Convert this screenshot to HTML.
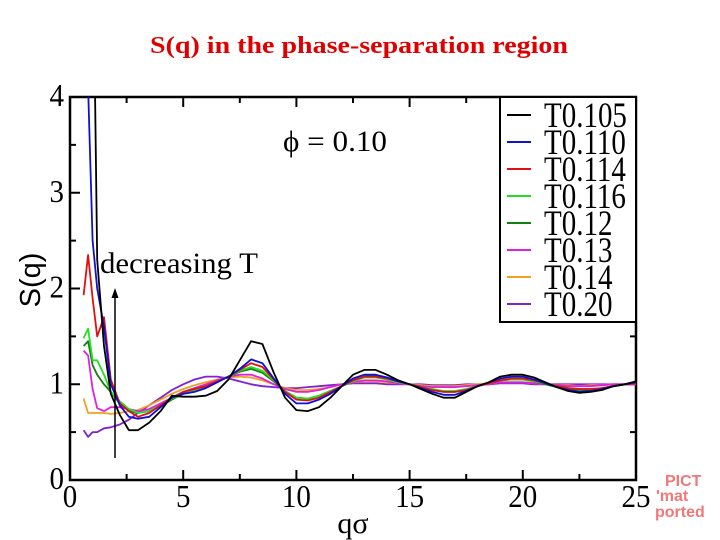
<!DOCTYPE html>
<html><head><meta charset="utf-8"><style>
html,body{margin:0;padding:0;background:#fff;}
body{width:720px;height:540px;overflow:hidden;position:relative;}
svg{position:absolute;left:0;top:0;}
</style></head><body>
<svg id="chart" width="720" height="540" viewBox="0 0 720 540">
<defs><clipPath id="plotclip"><rect x="70" y="97" width="566" height="383"/></clipPath></defs>
<text x="150" y="53" textLength="418" lengthAdjust="spacingAndGlyphs" fill="#e00000" font-family="Liberation Serif, serif" font-size="24" font-weight="bold">S(q) in the phase-separation region</text>
<g id="axes"></g>
<g id="series" clip-path="url(#plotclip)"></g>
<line x1="115" y1="458" x2="115" y2="292" stroke="#000" stroke-width="1.5"/>
<polygon points="115,288 111.5,298 118.5,298" fill="#000"/>
<text x="100" y="273" textLength="158" lengthAdjust="spacingAndGlyphs" font-family="Liberation Serif, serif" font-size="30">decreasing T</text>
<text x="283" y="151" textLength="104" lengthAdjust="spacingAndGlyphs" font-family="Liberation Serif, serif" font-size="30">ϕ = 0.10</text>
<text transform="translate(40,280) rotate(-90)" text-anchor="middle" font-family="Liberation Sans, sans-serif" font-size="29">S(q)</text>
<text x="353" y="533" text-anchor="middle" font-family="Liberation Serif, serif" font-size="30">qσ</text>
<g id="legend"></g>
<g font-family="Liberation Sans, sans-serif" font-size="16" font-weight="bold" fill="#f07878">
<text x="665" y="486">PICT</text><text x="656" y="501">'mat</text><text x="655" y="517">ported</text></g>
</svg>
<script>
const qs=[0.6,0.8,1.0,1.2,1.5,1.8,2.2,2.6,3,3.5,4,4.5,5,5.5,6,6.5,7,7.5,8,8.5,9,9.5,10,10.5,11,11.5,12,12.5,13,13.5,14,14.5,15,15.5,16,16.5,17,17.5,18,18.5,19,19.5,20,20.5,21,21.5,22,22.5,23,23.5,24,24.5,25];
const sT105=[null,null,6,2.3,1.4,0.9,0.68,0.52,0.52,0.6,0.72,0.88,0.87,0.87,0.88,0.93,1.05,1.25,1.45,1.42,1.12,0.86,0.73,0.72,0.76,0.86,0.98,1.1,1.15,1.15,1.1,1.04,1.0,0.95,0.9,0.86,0.86,0.92,0.98,1.02,1.08,1.1,1.1,1.07,1.02,0.97,0.93,0.91,0.92,0.94,0.98,1.0,1.03];
const sT110=[5,4.1,2.5,2.0,1.6,1.0,0.78,0.66,0.64,0.66,0.76,0.86,0.9,0.92,0.96,1.02,1.08,1.16,1.26,1.22,1.06,0.9,0.8,0.8,0.84,0.9,0.98,1.06,1.1,1.1,1.07,1.03,1.0,0.96,0.92,0.89,0.89,0.93,0.98,1.02,1.06,1.08,1.08,1.05,1.01,0.97,0.94,0.92,0.93,0.95,0.98,1.0,1.02];
const sT114=[1.93,2.35,1.9,1.5,1.7,1.05,0.8,0.72,0.66,0.7,0.78,0.86,0.92,0.95,0.98,1.03,1.08,1.15,1.22,1.18,1.05,0.92,0.84,0.83,0.86,0.92,0.98,1.04,1.08,1.08,1.06,1.03,1.0,0.97,0.94,0.92,0.92,0.94,0.98,1.01,1.04,1.06,1.06,1.04,1.01,0.98,0.96,0.95,0.95,0.96,0.98,1.0,1.01];
const sT116=[1.48,1.58,1.25,1.25,1.1,0.92,0.82,0.74,0.7,0.72,0.78,0.85,0.9,0.94,0.98,1.03,1.08,1.14,1.18,1.14,1.04,0.93,0.86,0.85,0.88,0.93,0.98,1.03,1.07,1.07,1.05,1.02,1.0,0.97,0.95,0.93,0.93,0.95,0.98,1.01,1.04,1.05,1.05,1.03,1.01,0.98,0.96,0.95,0.95,0.96,0.98,1.0,1.01];
const sT12=[1.4,1.45,1.2,1.1,1.0,0.92,0.8,0.72,0.7,0.72,0.77,0.84,0.9,0.94,0.98,1.03,1.08,1.13,1.16,1.12,1.03,0.93,0.86,0.85,0.88,0.93,0.98,1.03,1.08,1.09,1.07,1.03,1.0,0.97,0.94,0.92,0.92,0.94,0.98,1.01,1.04,1.05,1.05,1.03,1.0,0.97,0.95,0.94,0.94,0.96,0.98,1.0,1.01];
const sT13=[1.35,1.3,0.95,0.75,0.72,0.76,0.76,0.74,0.72,0.74,0.8,0.86,0.92,0.96,1.0,1.04,1.08,1.1,1.1,1.06,1.0,0.95,0.92,0.92,0.94,0.97,1.0,1.02,1.04,1.04,1.03,1.01,1.0,0.98,0.97,0.97,0.97,0.98,0.99,1.0,1.02,1.02,1.02,1.01,1.0,0.99,0.98,0.98,0.98,0.99,1.0,1.0,1.0];
const sT14=[0.85,0.7,0.7,0.7,0.7,0.69,0.7,0.72,0.73,0.78,0.84,0.9,0.95,0.99,1.02,1.05,1.07,1.08,1.07,1.04,1.0,0.96,0.94,0.94,0.95,0.97,1.0,1.02,1.03,1.03,1.02,1.01,1.0,0.99,0.98,0.98,0.98,0.99,1.0,1.01,1.02,1.02,1.02,1.01,1.0,0.99,0.99,0.98,0.99,0.99,1.0,1.0,1.01];
const sT20=[0.52,0.45,0.5,0.5,0.54,0.55,0.58,0.63,0.7,0.78,0.86,0.94,1.0,1.05,1.08,1.08,1.06,1.03,1.0,0.98,0.97,0.96,0.96,0.97,0.98,0.99,1.0,1.01,1.01,1.01,1.0,1.0,1.0,1.0,0.99,0.99,0.99,1.0,1.0,1.0,1.01,1.01,1.01,1.0,1.0,1.0,1.0,1.0,1.0,1.0,1.0,1.0,1.0];
const seriesNames=["T0.105","T0.110","T0.114","T0.116","T0.12","T0.13","T0.14","T0.20"];
const seriesColors=["#000000","#1010d0","#e01010","#20e020","#108010","#e020e0","#f0a020","#8020d0"];
const seriesData=[sT105,sT110,sT114,sT116,sT12,sT13,sT14,sT20];
const xTicks=[0,5,10,15,20,25];
const yTicks=[0,1,2,3,4];

const NS="http://www.w3.org/2000/svg";
const X0=70,X1=636,Y0=480,Y1=97;
const xs=v=>X0+(v-0)/25*(X1-X0);
const ys=v=>Y0-(v-0)/4*(Y0-Y1);
function mk(tag,attrs,parent){const e=document.createElementNS(NS,tag);for(const k in attrs)e.setAttribute(k,attrs[k]);parent.appendChild(e);return e;}
const axes=document.getElementById('axes');
const frame=mk('rect',{x:X0,y:Y1,width:X1-X0,height:Y0-Y1,fill:'none',stroke:'#000','stroke-width':2.5},axes);


for(let v=0;v<=25;v+=2.5){const x=xs(v);const L=(v%5===0)?10:6;
 const t1=mk('line',{x1:x,y1:Y0,x2:x,y2:Y0-L,stroke:'#000','stroke-width':2},axes);
 
 
 const t2=mk('line',{x1:x,y1:Y1,x2:x,y2:Y1+L,stroke:'#000','stroke-width':2},axes);
 
 }
for(let v=0;v<=4;v+=0.5){const y=ys(v);const L=(v%1===0)?10:6;
 const t1=mk('line',{x1:X0,y1:y,x2:X0+L,y2:y,stroke:'#000','stroke-width':2},axes);
 
 
 const t2=mk('line',{x1:X1,y1:y,x2:X1-L,y2:y,stroke:'#000','stroke-width':2},axes);
 
 }
xTicks.forEach(v=>{const t=mk('text',{transform:'translate('+xs(v)+',507) scale(1,1.1)','text-anchor':'middle','font-family':'Liberation Serif, serif','font-size':29},axes);t.textContent=v;
 
 });
yTicks.forEach(v=>{const t=mk('text',{transform:'translate('+(X0-6)+','+(ys(v)+9)+') scale(1,1.1)','text-anchor':'end','font-family':'Liberation Serif, serif','font-size':29},axes);t.textContent=v;
 
 });
const sg=document.getElementById('series');
for(let i=seriesData.length-1;i>=0;i--){const d=seriesData[i];let p='';
 d.forEach((v,j)=>{if(v===null)return;p+=(p?'L':'M')+xs(qs[j]).toFixed(1)+','+ys(v).toFixed(1);});
 const path=mk('path',{d:p,fill:'none',stroke:seriesColors[i],'stroke-width':1.8,'stroke-linejoin':'round'},sg);
 
 }
const lg=document.getElementById('legend');
const box=mk('rect',{x:500,y:97,width:136,height:225,fill:'#fff',stroke:'#000','stroke-width':2},lg);


seriesNames.forEach((n,i)=>{const y=115+i*27;
 const ln=mk('line',{x1:507,y1:y,x2:531,y2:y,stroke:seriesColors[i],'stroke-width':2},lg);
 
 
 const t=mk('text',{transform:'translate(544,'+(y+12)+') scale(1,1.25)','font-family':'Liberation Serif, serif','font-size':29},lg);t.textContent=n;
 
 });
</script>
</body></html>
